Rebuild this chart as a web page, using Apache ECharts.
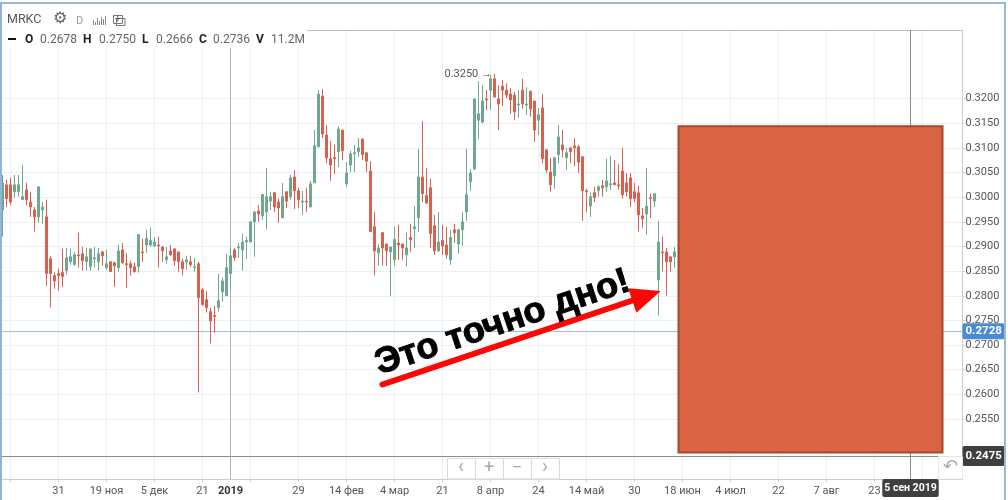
<!DOCTYPE html>
<html>
<head>
<meta charset="utf-8">
<script src="https://cdn.jsdelivr.net/npm/echarts@6/dist/echarts.min.js"></script>
<style>
  html, body { margin: 0; padding: 0; background: #fff; }
  #chart { width: 1008px; height: 500px; }
</style>
</head>
<body>
<div id="chart"></div>
<script>
  /* свечи, читаем с картинки */
  var opens = [
    0.2974,0.3025,0.3025,0.3011,0.3011,0.2995,0.3015,0.2990,0.2974,0.2960,
    0.2974,0.2960,0.2875,0.2841,0.2845,0.2847,0.2851,0.2869,0.2863,0.2883,
    0.2885,0.2869,0.2859,0.2875,0.2869,0.2889,0.2857,0.2869,0.2867,0.2857,
    0.2893,0.2865,0.2865,0.2859,0.2859,0.2889,0.2903,0.2903,0.2901,0.2903,
    0.2899,0.2873,0.2891,0.2895,0.2889,0.2869,0.2869,0.2869,0.2857,0.2865,
    0.2812,0.2792,0.2768,0.2760,0.2776,0.2808,0.2800,0.2845,0.2893,0.2897,
    0.2893,0.2909,0.2909,0.2950,0.2972,0.2962,0.2970,0.2992,0.3009,0.2990,
    0.2958,0.3011,0.3001,0.3041,0.3013,0.2990,0.2992,0.2980,0.3029,0.3102,
    0.3205,0.3126,0.3078,0.3080,0.3092,0.3136,0.3027,0.3065,0.3088,0.3092,
    0.3118,0.3090,0.3053,0.2940,0.2887,0.2928,0.2905,0.2889,0.2873,0.2907,
    0.2905,0.2883,0.2918,0.2936,0.2958,0.3041,0.3003,0.3019,0.2942,0.2891,
    0.2912,0.2903,0.2873,0.2934,0.2905,0.2934,0.2970,0.3031,0.3057,0.3156,
    0.3152,0.3199,0.3217,0.3240,0.3199,0.3225,0.3217,0.3209,0.3207,0.3187,
    0.3217,0.3187,0.3215,0.3195,0.3156,0.3181,0.3096,0.3051,0.3043,0.3086,
    0.3106,0.3080,0.3100,0.3104,0.3102,0.3082,0.3013,0.2982,0.3009,0.3013,
    0.3023,0.3021,0.3025,0.3029,0.3025,0.3053,0.3029,0.3039,0.3011,0.3009,
    0.2962,0.2966,0.2999,0.2992,0.2832,0.2889,0.2889,0.2879,0.2879
  ]
  var closes = [
    0.3029,0.2997,0.2990,0.3025,0.3025,0.3001,0.2995,0.2980,0.2960,0.3021,
    0.2980,0.2845,0.2845,0.2830,0.2841,0.2839,0.2877,0.2879,0.2883,0.2881,
    0.2871,0.2879,0.2895,0.2877,0.2885,0.2881,0.2865,0.2849,0.2861,0.2891,
    0.2867,0.2863,0.2857,0.2849,0.2924,0.2887,0.2916,0.2912,0.2909,0.2901,
    0.2891,0.2879,0.2883,0.2871,0.2869,0.2855,0.2873,0.2863,0.2859,0.2796,
    0.2782,0.2776,0.2749,0.2758,0.2790,0.2830,0.2857,0.2881,0.2877,0.2899,
    0.2909,0.2912,0.2950,0.2970,0.2966,0.3005,0.3001,0.3001,0.2980,0.2978,
    0.3001,0.2992,0.3039,0.3013,0.2995,0.2992,0.2990,0.3027,0.3104,0.3209,
    0.3128,0.3080,0.3065,0.3078,0.3138,0.3094,0.3049,0.3088,0.3090,0.3100,
    0.3086,0.3073,0.2930,0.2891,0.2897,0.2897,0.2891,0.2899,0.2914,0.2903,
    0.2897,0.2897,0.2914,0.2940,0.3041,0.3007,0.2988,0.2926,0.2891,0.2909,
    0.2901,0.2883,0.2918,0.2928,0.2934,0.2950,0.3005,0.3049,0.3199,0.3169,
    0.3195,0.3197,0.3240,0.3203,0.3189,0.3217,0.3207,0.3197,0.3173,0.3189,
    0.3189,0.3189,0.3179,0.3136,0.3167,0.3078,0.3055,0.3025,0.3080,0.3122,
    0.3096,0.3090,0.3092,0.3100,0.3071,0.3013,0.3011,0.3001,0.2999,0.3021,
    0.3019,0.3033,0.3027,0.3025,0.3023,0.3005,0.3011,0.2997,0.2997,0.2964,
    0.2956,0.2982,0.2997,0.3007,0.2909,0.2887,0.2869,0.2869,0.2889
  ]
  var lows = [
    0.2920,0.2980,0.2984,0.2999,0.3001,0.2995,0.2984,0.2960,0.2930,0.2948,
    0.2946,0.2820,0.2776,0.2814,0.2810,0.2818,0.2843,0.2863,0.2861,0.2857,
    0.2851,0.2851,0.2851,0.2857,0.2851,0.2861,0.2853,0.2849,0.2818,0.2849,
    0.2865,0.2816,0.2841,0.2847,0.2847,0.2869,0.2887,0.2899,0.2899,0.2857,
    0.2869,0.2865,0.2881,0.2861,0.2849,0.2841,0.2853,0.2859,0.2849,0.2604,
    0.2780,0.2766,0.2703,0.2725,0.2768,0.2788,0.2800,0.2810,0.2871,0.2877,
    0.2851,0.2875,0.2909,0.2879,0.2950,0.2954,0.2934,0.2974,0.2970,0.2948,
    0.2958,0.2978,0.2995,0.2976,0.2978,0.2964,0.2970,0.2980,0.3029,0.3102,
    0.3120,0.3069,0.3033,0.3047,0.3061,0.3075,0.3021,0.3051,0.3051,0.3082,
    0.3075,0.3051,0.2930,0.2841,0.2861,0.2861,0.2861,0.2800,0.2861,0.2873,
    0.2873,0.2859,0.2889,0.2897,0.2930,0.2990,0.2986,0.2897,0.2883,0.2889,
    0.2883,0.2875,0.2863,0.2907,0.2885,0.2901,0.2952,0.3013,0.3055,0.3118,
    0.3150,0.3177,0.3177,0.3203,0.3136,0.3185,0.3201,0.3169,0.3156,0.3161,
    0.3179,0.3167,0.3163,0.3112,0.3126,0.3069,0.3049,0.3011,0.3017,0.3069,
    0.3080,0.3055,0.3069,0.3063,0.3049,0.2952,0.2970,0.2960,0.2990,0.3001,
    0.3001,0.3011,0.3015,0.3025,0.3015,0.2997,0.3001,0.2980,0.2990,0.2930,
    0.2938,0.2924,0.2958,0.2980,0.2760,0.2849,0.2800,0.2849,0.2857
  ]
  var highs = [
    0.3045,0.3035,0.3039,0.3045,0.3045,0.3065,0.3029,0.3011,0.2980,0.3021,
    0.2990,0.2995,0.2881,0.2847,0.2855,0.2895,0.2897,0.2895,0.2889,0.2928,
    0.2899,0.2897,0.2895,0.2899,0.2897,0.2891,0.2893,0.2869,0.2869,0.2903,
    0.2907,0.2887,0.2871,0.2867,0.2924,0.2916,0.2934,0.2938,0.2918,0.2920,
    0.2901,0.2899,0.2903,0.2897,0.2889,0.2875,0.2881,0.2881,0.2877,0.2869,
    0.2816,0.2810,0.2776,0.2780,0.2845,0.2837,0.2885,0.2899,0.2897,0.2907,
    0.2926,0.2920,0.2950,0.2972,0.2984,0.3007,0.3059,0.3011,0.3011,0.2997,
    0.3029,0.3011,0.3045,0.3055,0.3019,0.3013,0.3019,0.3033,0.3136,0.3217,
    0.3219,0.3146,0.3114,0.3106,0.3144,0.3136,0.3071,0.3094,0.3106,0.3120,
    0.3118,0.3090,0.3073,0.2970,0.2905,0.2928,0.2905,0.2899,0.2940,0.2944,
    0.2905,0.2928,0.2946,0.2982,0.3098,0.3154,0.3059,0.3037,0.2964,0.2970,
    0.2944,0.2940,0.2934,0.2946,0.2934,0.2970,0.3098,0.3057,0.3201,0.3235,
    0.3227,0.3217,0.3248,0.3250,0.3227,0.3238,0.3231,0.3221,0.3213,0.3217,
    0.3240,0.3223,0.3215,0.3195,0.3181,0.3209,0.3096,0.3080,0.3082,0.3146,
    0.3136,0.3100,0.3100,0.3120,0.3106,0.3082,0.3017,0.3009,0.3021,0.3025,
    0.3035,0.3078,0.3084,0.3075,0.3067,0.3100,0.3049,0.3049,0.3029,0.3023,
    0.2978,0.3059,0.3007,0.3007,0.2952,0.2920,0.2897,0.2879,0.2899
  ]

  /* подписи осей */
  var dateIndexes = [14, 26, 38, 50, 57, 74, 86, 98, 110, 122, 134, 146, 158, 170, 182, 194, 206, 218]
  var dateLabels = ['31', '19 ноя', '5 дек', '21', '2019', '29', '14 фев', '4 мар', '21', '8 апр', '24', '14 май', '30', '18 июн', '4 июл', '22', '7 авг', '23']
  var priceTicks = [0.2550, 0.2600, 0.2650, 0.2700, 0.2750, 0.2800, 0.2850, 0.2900, 0.2950, 0.3000, 0.3050, 0.3100, 0.3150, 0.3200]

  var lastPrice = 0.2728
  var cursorPrice = 0.2475
  var yearIndex = 57
  var cursorIndex = 227
  var highIndex = 123
  var highPrice = 0.3250
  var shapeFrom = [169, 0.3144]
  var shapeTo = [235, 0.2482]
  var arrowFrom = [95, 0.2620]
  var arrowTo = [161, 0.2800]
  var noteAt = [125, 0.2745]

  var ohlcKeys = ['O', 'H', 'L', 'C', 'V']
  var ohlcValues = ['0.2678', '0.2750', '0.2666', '0.2736', '11.2M']
  var ohlcKeyX = [25, 83, 142, 199, 256]
  var ohlcValueX = [40, 99, 156, 213, 271]
  var navSymbols = ['‹', '+', '−', '›']

  var categories = []
  for (var n = 0; n < 241; n++) categories.push(String(n))

  var candles = opens.map(function(o, i) {
    return [o, closes[i], lows[i], highs[i]]
  })

  var fontName = 'Roboto, sans-serif'
  var gridTop = 30
  var gridSplit = 456
  var gridBottom = 479

  function isGridIndex(i) {
    return i % 12 === 2
  }

  function textEl(x, y, text, size, color, weight, family) {
    return {
      type: 'text', z: 102, x: x, y: y,
      style: { text: text, fontSize: size, fill: color, fontWeight: weight || 'normal', fontFamily: family || fontName, textVerticalAlign: 'middle' }
    }
  }
  function rectEl(x, y, w, h, fill, stroke) {
    return {
      type: 'rect', z: 101,
      shape: { x: x, y: y, width: w, height: h },
      style: { fill: fill, stroke: stroke || null, lineWidth: stroke ? 1 : 0 }
    }
  }

  var headerEls = [
    rectEl(2, 4, 305, 44, '#fff'),
    rectEl(0, 2, 1006, 2, '#9db8d6'),
    rectEl(0, 2, 2, 498, '#8fb3db'),
    rectEl(1004, 2, 2, 498, '#9db8d6'),
    textEl(7, 20, 'MRKC', 12.5, '#555'),
    textEl(53, 19, '⚙', 16, '#666', 'normal', 'DejaVu Sans'),
    textEl(76, 21, 'D', 11, '#999'),
    rectEl(113.5, 15.5, 9, 8, 'none', '#777'),
    rectEl(116.5, 18.5, 8.5, 7, 'none', '#777'),
    textEl(115, 19.5, '+', 10, '#555'),
    rectEl(8, 38, 8, 2, '#111')
  ]
  var barHeights = [5, 3, 7, 4, 8, 6, 9]
  barHeights.forEach(function(h, i) {
    headerEls.push(rectEl(93 + i * 2, 25 - h, 1, h, '#888'))
  })
  ohlcKeys.forEach(function(k, i) {
    headerEls.push(textEl(ohlcKeyX[i], 40, k, 12, '#222', 'bold'))
    headerEls.push(textEl(ohlcValueX[i], 40, ohlcValues[i], 12, '#666'))
  })
  navSymbols.forEach(function(s, i) {
    var x = 447 + i * 28
    headerEls.push(rectEl(x + 0.5, 458.5, 28, 20.5, '#fff', '#d9dde1'))
    var el = textEl(x + 14, 468, s, i === 0 || i === 3 ? 20 : 18, '#a6abb0')
    el.style.textAlign = 'center'
    headerEls.push(el)
  })
  headerEls.push(rectEl(938.5, 456.5, 24, 22.5, '#fff', '#e3e6e9'))
  var undo = textEl(950.5, 467, '↶', 18, '#aaa', 'normal', 'DejaVu Sans')
  undo.style.textAlign = 'center'
  headerEls.push(undo)

  var boxLabel = function(bg, text, pos, pad, size) {
    return {
      show: true, formatter: text, position: pos || 'end', distance: 0,
      color: '#fff', backgroundColor: bg, fontFamily: fontName, fontSize: size || 11.5, fontWeight: 'bold',
      padding: pad || [2, 3, 2, 3], borderRadius: 2
    }
  }

  var option = {
    animation: false,
    backgroundColor: '#fff',
    graphic: { elements: headerEls },
    grid: [
      { left: 2.5, right: 45.5, top: gridTop, height: gridSplit - gridTop },
      { left: 2.5, right: 45.5, top: gridSplit, height: gridBottom - gridSplit }
    ],
    xAxis: [
      {
        type: 'category', gridIndex: 0, data: categories, boundaryGap: false,
        axisLine: { lineStyle: { color: '#9a9a9a' } },
        axisTick: { show: false },
        axisLabel: { show: false },
        splitLine: { show: true, interval: function(i) { return isGridIndex(i) }, lineStyle: { color: '#edf0f2' } }
      },
      {
        type: 'category', gridIndex: 1, data: categories, boundaryGap: false,
        axisLine: { lineStyle: { color: '#c6ced6' } },
        axisTick: { show: true, length: 3, interval: function(i) { return isGridIndex(i) }, lineStyle: { color: '#c6ced6' } },
        axisLabel: {
          show: true, margin: 7, hideOverlap: false, color: '#555', fontFamily: fontName, fontSize: 11,
          interval: function(i) { return dateIndexes.indexOf(i) >= 0 },
          formatter: function(v, i) {
            var label = dateLabels[dateIndexes.indexOf(i)]
            return i === yearIndex ? '{year|' + label + '}' : label
          },
          rich: { year: { fontFamily: fontName, fontSize: 11, fontWeight: 'bold', color: '#333' } }
        },
        splitLine: { show: true, interval: function(i) { return isGridIndex(i) }, lineStyle: { color: '#edf0f2' } }
      }
    ],
    yAxis: [
      {
        type: 'value', gridIndex: 0, position: 'right', min: cursorPrice, max: 0.3339, scale: true,
        axisLine: { show: true, lineStyle: { color: '#c6ced6' } },
        axisTick: { show: true, length: 3, customValues: priceTicks, lineStyle: { color: '#c6ced6' } },
        axisLabel: {
          customValues: priceTicks, margin: 3, padding: [4, 0, 0, 0], color: '#555', fontFamily: fontName, fontSize: 11,
          formatter: function(v) { return v.toFixed(4) }
        },
        splitLine: { show: true, lineStyle: { color: '#edf0f2' } }
      },
      {
        type: 'value', gridIndex: 1, position: 'right', min: 0, max: 1,
        axisLine: { show: true, lineStyle: { color: '#c6ced6' } },
        axisTick: { show: false },
        axisLabel: { show: false },
        splitLine: { show: false }
      }
    ],
    series: [
      {
        name: 'guides', type: 'line', xAxisIndex: 0, yAxisIndex: 0, data: [], silent: true,
        markLine: {
          silent: true, symbol: 'none', z: 2, precision: 4,
          data: [
            { yAxis: 0.3339, lineStyle: { color: '#bdbdbd', type: 'solid', width: 1 }, label: { show: false } },
            { yAxis: lastPrice, lineStyle: { color: '#9fc0da', type: 'solid', width: 1 }, label: boxLabel('#4a8bd6', lastPrice.toFixed(4)) },
            { yAxis: cursorPrice, lineStyle: { color: '#8c8c8c', type: 'solid', width: 1 }, label: boxLabel('#3f3f3f', cursorPrice.toFixed(4), 'end', [4, 3, 4, 3]) },
            { xAxis: yearIndex, lineStyle: { color: '#b0b3b6', type: 'solid', width: 1 }, label: { show: false } },
            { xAxis: cursorIndex, lineStyle: { color: '#8c8c8c', type: 'solid', width: 1 }, label: { show: false } }
          ]
        }
      },
      {
        name: 'guidesLow', type: 'line', xAxisIndex: 1, yAxisIndex: 1, data: [], silent: true,
        markLine: {
          silent: true, symbol: 'none', z: 2,
          data: [
            { xAxis: yearIndex, lineStyle: { color: '#b0b3b6', type: 'solid', width: 1 }, label: { show: false } },
            { xAxis: cursorIndex, lineStyle: { color: '#8c8c8c', type: 'solid', width: 1 }, label: boxLabel('#3f3f3f', '5 сен 2019', 'start', [4, 2, 3, 2], 10.5) }
          ]
        }
      },
      {
        name: 'MRKC', type: 'candlestick', xAxisIndex: 0, yAxisIndex: 0, data: candles, barWidth: 3, clip: false, z: 3,
        itemStyle: { color: '#6fa88f', color0: '#d9604f', borderColor: '#6fa88f', borderColor0: '#d9604f', borderWidth: 1 },
        markPoint: {
          silent: true, symbol: 'circle', symbolSize: 1, itemStyle: { color: 'rgba(0,0,0,0)' },
          data: [
            {
              coord: [highIndex, highPrice],
              label: { show: true, position: 'left', distance: 2, formatter: highPrice.toFixed(4) + ' →', color: '#555', fontFamily: fontName, fontSize: 11 }
            }
          ]
        }
      },
      {
        name: 'shape', type: 'line', xAxisIndex: 0, yAxisIndex: 0, data: [], silent: true,
        markArea: {
          silent: true, z: 4,
          itemStyle: { color: '#d96343', borderColor: '#a9472a', borderWidth: 2 },
          data: [[{ coord: shapeFrom }, { coord: shapeTo }]]
        }
      },
      {
        name: 'note', type: 'line', xAxisIndex: 0, yAxisIndex: 0, data: [], silent: true,
        markLine: {
          silent: true, z: 6, symbol: ['none', 'triangle'], symbolSize: [26, 30], precision: 4,
          label: { show: false },
          lineStyle: { color: '#fd0606', type: 'solid', width: 6, cap: 'round', opacity: 1 },
          itemStyle: { color: '#fd0606' },
          data: [[{ coord: arrowFrom }, { coord: arrowTo }]]
        },
        markPoint: {
          silent: true, z: 7, symbol: 'circle', symbolSize: 1, itemStyle: { color: 'rgba(0,0,0,0)' },
          data: [
            {
              coord: noteAt,
              label: { show: true, position: 'inside', rotate: 18.5, formatter: 'Это точно дно!', color: '#000', textBorderColor: '#000', textBorderWidth: 1, fontFamily: '"Liberation Sans", Arial, sans-serif', fontWeight: 'bold', fontSize: 36 }
            }
          ]
        }
      }
    ]
  }

  var chart = echarts.init(document.getElementById('chart'), null, { renderer: 'canvas' })
  chart.setOption(option)
</script>
</body>
</html>
